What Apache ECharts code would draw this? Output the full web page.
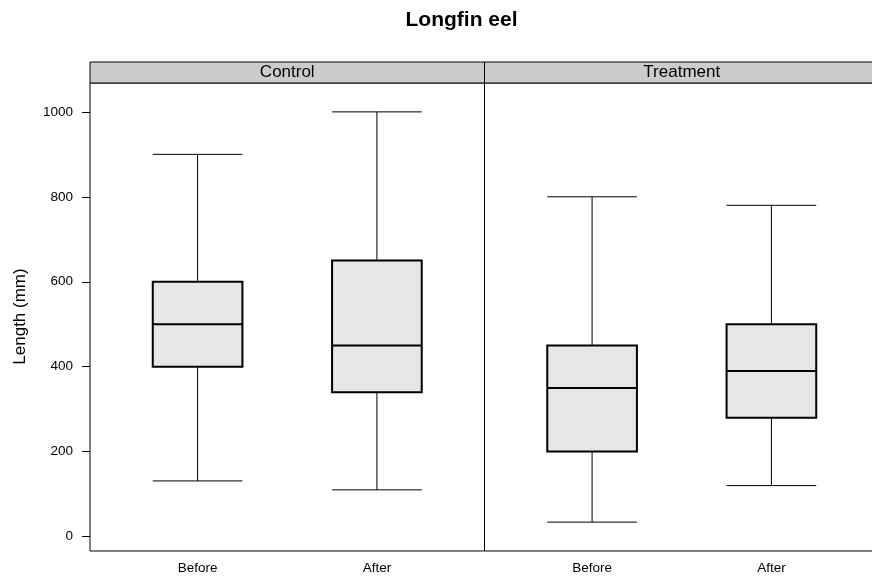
<!DOCTYPE html>
<html>
<head>
<meta charset="utf-8">
<script src="https://cdn.jsdelivr.net/npm/echarts@6/dist/echarts.min.js"></script>
<style>
  html, body { margin: 0; padding: 0; background: #fff; }
  #chart { width: 872px; height: 577px; }
</style>
</head>
<body>
<div id="chart"></div>
<script>
// Longfin eel lengths (mm) by period, one panel per site group
const panels = ['Control', 'Treatment'];
const periods = ['Before', 'After'];
// each row: [low whisker, lower quartile, median, upper quartile, high whisker]
const controlStats = [
  [131, 400, 500, 600, 900],
  [110, 340, 450, 650, 1000]
];
const treatmentStats = [
  [34, 200, 350, 450, 800],
  [120, 280, 390, 500, 780]
];
const yTicks = [0, 200, 400, 600, 800, 1000];
const yTitle = 'Length (mm)';
const chartTitle = 'Longfin eel';

const FONT = '"Liberation Sans", Arial, Helvetica, sans-serif';
const panelLeft = 90, panelTop = 83, panelW = 394.5, panelH = 468, stripH = 21;

function boxRender(params, api) {
  const x = api.value(0);
  const lo = api.value(1), q1 = api.value(2), med = api.value(3), q3 = api.value(4), hi = api.value(5);
  const halfW = api.size([0.5, 0])[0] / 2;
  const pLo = api.coord([x, lo]), pQ1 = api.coord([x, q1]), pMed = api.coord([x, med]);
  const pQ3 = api.coord([x, q3]), pHi = api.coord([x, hi]);
  const cx = pLo[0];
  const thin = { stroke: '#000', lineWidth: 1 };
  const thick = { stroke: '#000', lineWidth: 2 };
  return {
    type: 'group',
    children: [
      { type: 'line', shape: { x1: cx, y1: pHi[1], x2: cx, y2: pQ3[1] }, style: thin },
      { type: 'line', shape: { x1: cx, y1: pQ1[1], x2: cx, y2: pLo[1] }, style: thin },
      { type: 'line', shape: { x1: cx - halfW, y1: pHi[1], x2: cx + halfW, y2: pHi[1] }, style: thin },
      { type: 'line', shape: { x1: cx - halfW, y1: pLo[1], x2: cx + halfW, y2: pLo[1] }, style: thin },
      { type: 'rect', shape: { x: cx - halfW, y: pQ3[1], width: halfW * 2, height: pQ1[1] - pQ3[1] },
        style: { fill: '#e6e6e6', stroke: '#000', lineWidth: 2 } },
      { type: 'line', shape: { x1: cx - halfW, y1: pMed[1], x2: cx + halfW, y2: pMed[1] }, style: thick }
    ]
  };
}

function toData(stats) {
  return stats.map((s, i) => [i + 1].concat(s));
}

const grids = panels.map((p, i) => ({
  left: panelLeft + i * panelW, top: panelTop, width: panelW, height: panelH,
  outerBoundsMode: 'none', containLabel: false,
  show: true, borderColor: '#000', borderWidth: 1, backgroundColor: 'transparent'
}));

const xAxes = panels.map((p, i) => ({
  type: 'value', gridIndex: i, min: 0.4, max: 2.6,
  splitLine: { show: false },
  axisLine: { show: false },
  axisTick: { show: false },
  axisLabel: {
    customValues: [1, 2], margin: 10,
    formatter: v => periods[Math.round(v) - 1],
    fontFamily: FONT, fontSize: 13.5, color: '#000'
  }
}));

const yAxes = panels.map((p, i) => ({
  type: 'value', gridIndex: i, min: -34, max: 1068,
  splitLine: { show: false },
  axisLine: { show: false },
  axisTick: { show: i === 0, customValues: yTicks, length: 8, lineStyle: { color: '#000', width: 1 } },
  axisLabel: {
    show: i === 0, customValues: yTicks, margin: 17,
    formatter: v => String(v),
    fontFamily: FONT, fontSize: 13.5, color: '#000'
  }
}));

const graphics = [
  { type: 'text', x: 461.5, y: 20, style: { text: chartTitle, textAlign: 'center', textVerticalAlign: 'middle',
      font: 'bold 21px ' + FONT, fill: '#000' } },
  { type: 'text', x: 20, y: 316.5, rotation: Math.PI / 2, style: { text: yTitle, textAlign: 'center',
      textVerticalAlign: 'middle', font: '17px ' + FONT, fill: '#000' } }
];
panels.forEach((p, i) => {
  const x0 = panelLeft + i * panelW;
  graphics.push({ type: 'rect', shape: { x: x0, y: panelTop - stripH, width: panelW, height: stripH },
    style: { fill: '#cccccc', stroke: '#000', lineWidth: 1 } });
  graphics.push({ type: 'text', x: x0 + panelW / 2, y: panelTop - stripH / 2, style: { text: p,
    textAlign: 'center', textVerticalAlign: 'middle', font: '17px ' + FONT, fill: '#000' } });
});

const chart = echarts.init(document.getElementById('chart'), null, { renderer: 'canvas' });
chart.setOption({
  animation: false,
  backgroundColor: '#fff',
  grid: grids,
  xAxis: xAxes,
  yAxis: yAxes,
  graphic: graphics,
  series: [
    { type: 'custom', xAxisIndex: 0, yAxisIndex: 0, renderItem: boxRender, data: toData(controlStats) },
    { type: 'custom', xAxisIndex: 1, yAxisIndex: 1, renderItem: boxRender, data: toData(treatmentStats) }
  ]
});
</script>
</body>
</html>
